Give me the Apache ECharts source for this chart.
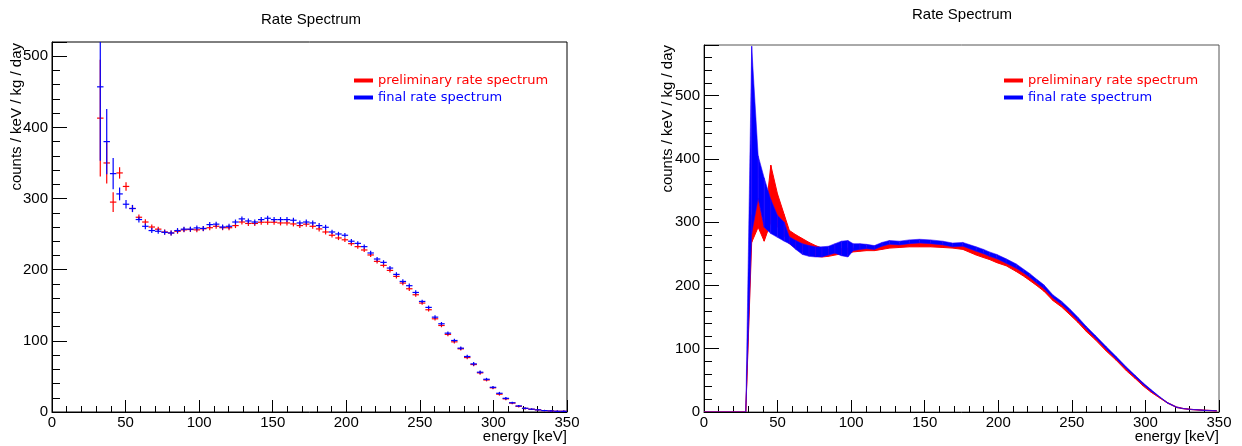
<!DOCTYPE html>
<html>
<head>
<meta charset="utf-8">
<script src="https://cdn.jsdelivr.net/npm/echarts@6/dist/echarts.min.js"></script>
<style>
html,body{margin:0;padding:0;background:#fff;}
#chart{width:1242px;height:446px;}
</style>
</head>
<body>
<div id="chart"></div>
<script>
// ---------- Left panel: binned rate spectrum with error bars ----------
const binCenters = [32.81, 37.19, 41.56, 45.94, 50.31, 54.69, 59.06, 63.44, 67.81, 72.19,
  76.56, 80.94, 85.31, 89.69, 94.06, 98.44, 102.81, 107.19, 111.56, 115.94,
  120.31, 124.69, 129.06, 133.44, 137.81, 142.19, 146.56, 150.94, 155.31, 159.69,
  164.06, 168.44, 172.81, 177.19, 181.56, 185.94, 190.31, 194.69, 199.06, 203.44,
  207.81, 212.19, 216.56, 220.94, 225.31, 229.69, 234.06, 238.44, 242.81, 247.19,
  251.56, 255.94, 260.31, 264.69, 269.06, 273.44, 277.81, 282.19, 286.56, 290.94,
  295.31, 299.69, 304.06, 308.44, 312.81, 317.19, 321.56, 325.94, 330.31, 334.69,
  339.06, 343.44, 347.81];
const binHalfWidth = 2.19;

const prelimValues = [413, 350, 295, 336, 317, 286, 273.7, 267, 260, 257,
  253, 251.6, 254, 256, 256.5, 256, 257.5, 259, 261, 259,
  259, 262, 267, 265, 265, 266.7, 266.7, 266.7, 265.7, 265.7,
  264.3, 262, 264, 261, 257.3, 253, 248.4, 244.6, 242, 236.6,
  232.4, 227.7, 220.7, 211.7, 206.1, 199, 190.6, 181.2, 173.2, 164.8,
  153.1, 143.7, 131, 121.6, 109, 98.6, 88.8, 76.5, 66.7, 55,
  45, 34, 25, 18.5, 12.5, 8, 5, 3.8, 3, 2,
  1.5, 1, 1];
const prelimErrors = [82, 29, 14, 8, 6, 5, 4, 4, 3.5, 3.5,
  3.5, 3.5, 3.5, 3.5, 3.5, 3.5, 3.5, 3.5, 3.5, 3.5,
  3.5, 3.5, 3.5, 3.5, 3.5, 3.5, 3.5, 3.5, 3.5, 3.5,
  3.5, 3.5, 3.5, 3.5, 3.5, 3.5, 3, 3, 3, 3,
  3, 3, 3, 3, 3, 3, 3, 3, 3, 3,
  2.5, 2.5, 2.5, 2.5, 2.5, 2.5, 2.5, 2.5, 2.5, 2.5,
  2, 2, 2, 2, 1.5, 1.5, 1.5, 1, 1, 1,
  1, 1, 1];
const finalValues = [457, 380, 335, 306.5, 292, 286, 270.5, 261, 255, 254,
  252.5, 251.6, 255, 257, 257, 258.7, 258, 263.4, 264, 260,
  261, 267, 271.4, 268.5, 267, 270.4, 272.3, 270.4, 270.4, 270.4,
  269.5, 265.7, 267, 265.7, 262, 259.6, 253, 250.2, 248.4, 240,
  237, 232.4, 223.5, 215, 210.3, 202.3, 193.4, 183.5, 177.5, 168,
  155.4, 147, 133.3, 124, 110.8, 100.5, 89.7, 78, 67.6, 55.9,
  46, 34.7, 26.3, 19.2, 13, 8.5, 5.2, 4, 3, 2,
  1.5, 1, 1];
const finalErrors = [104, 46, 22, 9, 6, 5, 4, 4, 3.5, 3.5,
  3.5, 3.5, 3.5, 3.5, 3.5, 3.5, 3.5, 3.5, 3.5, 3.5,
  3.5, 3.5, 3.5, 3.5, 3.5, 3.5, 3.5, 3.5, 3.5, 3.5,
  3.5, 3.5, 3.5, 3.5, 3.5, 3.5, 3, 3, 3, 3,
  3, 3, 3, 3, 3, 3, 3, 3, 3, 3,
  2.5, 2.5, 2.5, 2.5, 2.5, 2.5, 2.5, 2.5, 2.5, 2.5,
  2, 2, 2, 2, 1.5, 1.5, 1.5, 1, 1, 1,
  1, 1, 1];

// ---------- Right panel: error bands ----------
const bandEnergies = [0, 28.4, 32.4, 36.8, 40.9, 45.4, 49.9, 54.5, 58.0, 62.4,
  66.9, 71.4, 75.8, 80.2, 84.6, 89.0, 93.4, 97.8, 101.4, 106.0,
  110.5, 115.8, 121.0, 126.0, 132.8, 139.5, 146.4, 154.0, 162.3, 169.0,
  175.9, 185.0, 190.0, 194.0, 199.0, 205.4, 212.2, 217.0, 221.3, 226.0,
  231.0, 237.2, 243.0, 248.5, 254.0, 259.9, 266.0, 273.5, 280.0, 287.1,
  293.0, 298.5, 304.0, 309.8, 315.0, 321.2, 326.0, 332.5, 340.0, 348.4];
const finalBandLow = [0, 0, 282, 337, 292, 282, 276, 270, 266, 257,
  249, 246, 245, 245, 248, 251, 247, 245, 255, 257,
  258, 257, 262, 265, 264, 266, 267, 266, 264, 261,
  262, 254, 250, 246, 242, 235, 227, 220, 213, 204,
  195, 180, 170, 158, 145, 131, 117, 99, 84, 68,
  55, 43, 32.5, 23, 14, 7, 5, 3.5, 2.5, 1.5];
const finalBandHigh = [0, 0, 578, 405, 370, 336, 311, 300, 277, 271,
  266, 263, 261, 261, 262, 266, 270, 271, 266, 266,
  265, 263, 268, 271, 270, 272, 273, 272, 270, 267,
  268, 261, 257, 253, 249, 242, 234, 226, 219, 210,
  201, 185, 175, 163, 150, 135, 121, 103, 88, 71,
  58, 46, 35, 24, 15, 8, 5.5, 4, 3, 2];
const prelimBandLow = [0, 0, 268, 292, 270, 300, 293, 279, 266, 259,
  254, 250, 246, 245, 246, 248, 250, 251, 253, 254,
  255, 255, 257, 259, 260, 261, 261, 261, 260, 259,
  257, 248, 244, 241, 236, 231, 222, 215, 208, 200,
  191, 176, 166, 154, 142, 127, 114, 96, 82, 65,
  53, 41, 31, 22, 14, 7, 5, 3.5, 2.5, 1.5];
const prelimBandHigh = [0, 0, 310, 337, 292, 390, 345, 312, 287, 280,
  274, 268, 263, 259, 257, 257, 258, 259, 259, 260,
  261, 261, 263, 265, 266, 267, 267, 267, 266, 264,
  263, 256, 252, 249, 244, 239, 230, 222, 215, 207,
  198, 182, 172, 160, 147, 132, 119, 101, 86, 69,
  57, 45, 34, 23, 15, 8, 5.5, 4, 3, 2];

// ---------- Axis settings ----------
const energyRange = [0, 350];
const energyMajorStep = 50;
const leftRateMax = 520;
const rightRateMax = 580;
const rateMajorStep = 100;
const rateMinorStep = 20;

const titleText = 'Rate Spectrum';
const yTitle = 'counts / keV / kg / day';
const xTitle = 'energy [keV]';
const prelimName = 'preliminary rate spectrum';
const finalName = 'final rate spectrum';
const RED = '#ff0000';
const BLUE = '#0000ff';

const tickFont = '"Liberation Sans", Arial, sans-serif';

function pointData(xs, ys, es) {
  return xs.map((x, i) => [x, ys[i], es[i]]);
}
function bandData(xs, lo, hi) {
  const out = [];
  for (let i = 0; i < xs.length - 1; i++) {
    out.push([xs[i], lo[i], hi[i], xs[i + 1], lo[i + 1], hi[i + 1]]);
  }
  return out;
}
function errRenderer(color) {
  return function (params, api) {
    const x = api.value(0), y = api.value(1), e = api.value(2);
    const pL = api.coord([x - binHalfWidth, y]);
    const pR = api.coord([x + binHalfWidth, y]);
    const pT = api.coord([x, y + e]);
    const pB = api.coord([x, y - e]);
    return {
      type: 'group',
      children: [
        { type: 'line', shape: { x1: pL[0], y1: pL[1], x2: pR[0], y2: pR[1] },
          style: { stroke: color, lineWidth: 1.2 } },
        { type: 'line', shape: { x1: pT[0], y1: pT[1], x2: pB[0], y2: pB[1] },
          style: { stroke: color, lineWidth: 1.2 } }
      ]
    };
  };
}
function bandRenderer(fill, stroke) {
  return function (params, api) {
    const a = api.coord([api.value(0), api.value(1)]);
    const b = api.coord([api.value(3), api.value(4)]);
    const c = api.coord([api.value(3), api.value(5)]);
    const d = api.coord([api.value(0), api.value(2)]);
    return {
      type: 'polygon',
      shape: { points: [a, b, c, d] },
      style: { fill: fill, stroke: stroke, lineWidth: 1 }
    };
  };
}

function xAxisFor(gridIndex) {
  return {
    type: 'value', gridIndex: gridIndex,
    min: energyRange[0], max: energyRange[1], interval: energyMajorStep,
    axisLine: { show: true, onZero: false, lineStyle: { color: '#000', width: 1 } },
    axisTick: { show: true, inside: true, length: 12, lineStyle: { color: '#000' } },
    minorTick: { show: true, splitNumber: 5, length: 6, lineStyle: { color: '#000' } },
    splitLine: { show: false },
    axisLabel: { color: '#000', fontSize: 15, fontFamily: tickFont, margin: 3 }
  };
}
function yAxesFor(gridIndex, max) {
  return [
    {
      type: 'value', gridIndex: gridIndex, position: 'left',
      min: 0, max: max, interval: rateMinorStep,
      axisLine: { show: true, onZero: false, lineStyle: { color: '#000', width: 1 } },
      axisTick: { show: true, inside: true, length: 8, lineStyle: { color: '#000' } },
      splitLine: { show: false },
      axisLabel: {
        color: '#000', fontSize: 15, fontFamily: tickFont, margin: 4,
        formatter: v => (v % rateMajorStep === 0 ? String(v) : '')
      }
    },
    {
      type: 'value', gridIndex: gridIndex, position: 'left',
      min: 0, max: max, interval: rateMajorStep,
      axisLine: { show: false },
      axisTick: { show: true, inside: true, length: 15, lineStyle: { color: '#000' } },
      splitLine: { show: false },
      axisLabel: { show: false }
    }
  ];
}

const chart = echarts.init(document.getElementById('chart'), null, { renderer: 'canvas' });

const yLeft = yAxesFor(0, leftRateMax);
const yRight = yAxesFor(1, rightRateMax);

function legendFor(left) {
  return {
    left: left, top: 69, orient: 'vertical',
    icon: 'rect', itemWidth: 19, itemHeight: 4, itemGap: 4,
    selectedMode: false,
    textStyle: { fontSize: 13, fontFamily: '"DejaVu Sans", Verdana, sans-serif', padding: [0, 0, 0, 0] },
    data: [
      { name: prelimName, textStyle: { color: RED } },
      { name: finalName, textStyle: { color: BLUE } }
    ]
  };
}

const titleFont = '15px "Liberation Sans", Arial, sans-serif';

chart.setOption({
  animation: false,
  backgroundColor: '#fff',
  grid: [
    { left: 52, top: 42, width: 515, height: 370, show: true, borderColor: '#000', borderWidth: 1, containLabel: false },
    { left: 704, top: 45, width: 515, height: 367, show: true, borderColor: '#555', borderWidth: 1, containLabel: false }
  ],
  xAxis: [xAxisFor(0), xAxisFor(1)],
  yAxis: [yLeft[0], yLeft[1], yRight[0], yRight[1]],
  legend: [legendFor(349), legendFor(999)],
  graphic: [
    { type: 'text', x: 311, y: 20, style: { text: titleText, font: titleFont, fill: '#000', align: 'center', verticalAlign: 'middle', textAlign: 'center', textVerticalAlign: 'middle' } },
    { type: 'text', x: 962, y: 15, style: { text: titleText, font: titleFont, fill: '#000', align: 'center', verticalAlign: 'middle', textAlign: 'center', textVerticalAlign: 'middle' } },
    { type: 'text', x: 17, y: 43, rotation: Math.PI / 2, style: { text: yTitle, font: titleFont, fill: '#000', align: 'right', verticalAlign: 'middle', textAlign: 'right', textVerticalAlign: 'middle' } },
    { type: 'text', x: 668, y: 45, rotation: Math.PI / 2, style: { text: yTitle, font: titleFont, fill: '#000', align: 'right', verticalAlign: 'middle', textAlign: 'right', textVerticalAlign: 'middle' } },
    { type: 'text', x: 567, y: 437, style: { text: xTitle, font: titleFont, fill: '#000', align: 'right', verticalAlign: 'middle', textAlign: 'right', textVerticalAlign: 'middle' } },
    { type: 'text', x: 1219, y: 437, style: { text: xTitle, font: titleFont, fill: '#000', align: 'right', verticalAlign: 'middle', textAlign: 'right', textVerticalAlign: 'middle' } }
  ],
  series: [
    {
      name: prelimName, type: 'custom', xAxisIndex: 0, yAxisIndex: 0, clip: true,
      itemStyle: { color: RED },
      renderItem: errRenderer(RED),
      encode: { x: 0, y: [1, 2] },
      data: pointData(binCenters, prelimValues, prelimErrors), z: 3
    },
    {
      name: finalName, type: 'custom', xAxisIndex: 0, yAxisIndex: 0, clip: true,
      itemStyle: { color: BLUE },
      renderItem: errRenderer(BLUE),
      encode: { x: 0, y: [1, 2] },
      data: pointData(binCenters, finalValues, finalErrors), z: 4
    },
    {
      name: prelimName, type: 'custom', xAxisIndex: 1, yAxisIndex: 2, clip: true,
      itemStyle: { color: RED },
      renderItem: bandRenderer(RED, RED),
      encode: { x: [0, 3], y: [1, 2, 4, 5] },
      data: bandData(bandEnergies, prelimBandLow, prelimBandHigh), z: 3
    },
    {
      name: finalName, type: 'custom', xAxisIndex: 1, yAxisIndex: 2, clip: true,
      itemStyle: { color: BLUE },
      renderItem: bandRenderer(BLUE, 'rgba(40,0,255,0.55)'),
      encode: { x: [0, 3], y: [1, 2, 4, 5] },
      data: bandData(bandEnergies, finalBandLow, finalBandHigh), z: 4
    }
  ]
});
</script>
</body>
</html>
